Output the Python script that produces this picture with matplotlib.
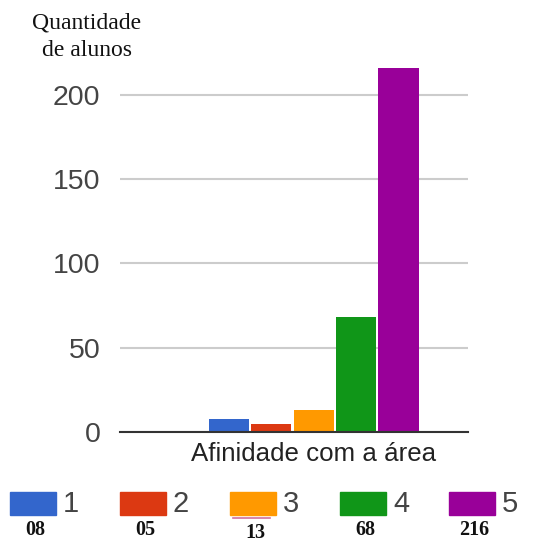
import matplotlib
matplotlib.use("Agg")
import matplotlib.pyplot as plt
from matplotlib.patches import Rectangle
from matplotlib.lines import Line2D

categories = ["1", "2", "3", "4", "5"]
values = [8, 5, 13, 68, 216]
value_labels = ["08", "05", "13", "68", "216"]
colors = ["#3366cc", "#dc3912", "#ff9900", "#109618", "#990099"]
y_ticks = [0, 50, 100, 150, 200]
x_label = "Afinidade com a área"
y_title_lines = ["Quantidade", "de alunos"]

W, H = 551, 543
fig = plt.figure(figsize=(W / 100, H / 100), dpi=100)

def fx(px):
    return px / W

def fy(py):
    return 1 - py / H

ax = fig.add_axes([fx(120), fy(432), fx(468) - fx(120), fy(61) - fy(432)])

positions = list(range(len(categories)))
ax.bar(positions, values, width=0.95, color=colors, zorder=3)
ax.set_xlim(-2.57, 5.64)
ax.set_ylim(0, 220)

ax.set_yticks(y_ticks)
ax.set_yticklabels([str(t) for t in y_ticks], fontsize=20.5, color="#444444",
                   family="Liberation Sans")
ax.set_xticks([2])
ax.set_xticklabels([x_label], fontsize=18.6, color="#222222", family="Liberation Sans")
ax.tick_params(axis="both", length=0)
ax.tick_params(axis="y", pad=14)
ax.tick_params(axis="x", pad=7)

ax.grid(axis="y", color="#cccccc", linewidth=1.5, zorder=0)
for s in ["top", "right", "left"]:
    ax.spines[s].set_visible(False)
ax.spines["bottom"].set_color("#333333")
ax.spines["bottom"].set_linewidth(1.5)
ax.spines["bottom"].set_zorder(4)

fig.text(fx(87), fy(28), y_title_lines[0], ha="center", va="baseline", fontsize=17,
         family="Liberation Serif", color="#111111")
fig.text(fx(87), fy(56), y_title_lines[1], ha="center", va="baseline", fontsize=17,
         family="Liberation Serif", color="#111111")

# Legend
leg_x = [10, 120, 230, 340, 449]
for i, (c, lab, vl) in enumerate(zip(colors, categories, value_labels)):
    x0 = leg_x[i]
    fig.add_artist(Rectangle((fx(x0), fy(515)), fx(46), fy(492) - fy(515),
                             transform=fig.transFigure, color=c))
    fig.text(fx(x0 + 53), fy(503.5), lab, ha="left", va="center", fontsize=21,
             color="#444444", family="Liberation Sans")
    ylab = 532.5 if vl == "13" else 530
    fig.text(fx(x0 + 25), fy(ylab), vl, ha="center", va="center", fontsize=14.5,
             fontweight="bold", family="Liberation Serif", color="#111111")

fig.add_artist(Line2D([fx(233), fx(270)], [fy(518), fy(518)], transform=fig.transFigure,
                      color="#d070a0", linewidth=1.2))

fig.savefig("out.png", dpi=100)
